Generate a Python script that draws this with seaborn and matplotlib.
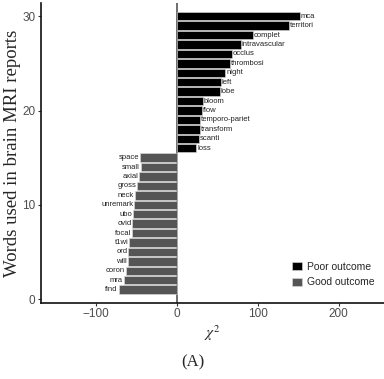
import matplotlib
matplotlib.use('Agg')
import matplotlib.pyplot as plt
import seaborn as sns
import pandas as pd

# words, top to bottom
poor_words = ['mca', 'territori', 'complet', 'intravascular', 'occlus', 'thrombosi',
              'night', 'left', 'lobe', 'bloom', 'flow', 'temporo-pariet',
              'transform', 'scanti', 'loss']
poor_chi2 = [152, 138, 94, 79, 68, 66, 60, 54, 53, 32, 31, 28, 28, 27, 24]

good_words = ['space', 'small', 'axial', 'gross', 'neck', 'unremark', 'ubo',
              'ovid', 'focal', 't1wi', 'ord', 'will', 'coron', 'mra', 'find']
good_chi2 = [-46, -45, -47, -49, -52, -53, -54, -55, -56, -59, -60, -61, -63, -66, -72]

words = poor_words + good_words
chi2 = poor_chi2 + good_chi2
outcome = ['Poor outcome'] * len(poor_words) + ['Good outcome'] * len(good_words)
n = len(words)
df = pd.DataFrame(dict(word=words, chi2=chi2, outcome=outcome,
                       pos=list(range(n, 0, -1))))

sns.set_style('white')
plt.rcParams['font.family'] = ['Liberation Sans', 'DejaVu Sans']
plt.rcParams['mathtext.fontset'] = 'stix'

fig = plt.figure(figsize=(3.84, 3.79), dpi=100)
ax = fig.add_axes([0.107, 0.201, 0.893, 0.791])

sns.barplot(data=df, x='chi2', y='pos', hue='outcome', orient='h',
            native_scale=True, dodge=False, width=0.9,
            hue_order=['Poor outcome', 'Good outcome'],
            palette={'Poor outcome': '#000000', 'Good outcome': '#555555'},
            edgecolor='#dddddd', linewidth=0.4, ax=ax)

for _, r in df.iterrows():
    if r.chi2 >= 0:
        ax.text(r.chi2 + 1, r.pos, r.word, ha='left', va='center', fontsize=5.5,
                color='#222222')
    else:
        ax.text(r.chi2 - 1, r.pos, r.word, ha='right', va='center', fontsize=5.5,
                color='#222222')

ax.axvline(0, color='#555555', linewidth=1.2, zorder=0)
ax.set_xlim(-168, 256)
ax.set_ylim(-0.4, 31.4)
ax.set_xticks([-100, 0, 100, 200])
ax.set_yticks([0, 10, 20, 30])
ax.tick_params(axis='both', labelsize=8.5, labelcolor='#4d4d4d', length=2.5,
               width=0.8, color='#333333', pad=1.5, direction='out')
ax.tick_params(axis='both', which='both', bottom=True, left=True)

for s in ['top', 'right']:
    ax.spines[s].set_visible(False)
for s in ['left', 'bottom']:
    ax.spines[s].set_color('#111111')
    ax.spines[s].set_linewidth(1.2)

ax.set_xlabel('$\\chi^2$', fontsize=11, labelpad=2)
ax.set_ylabel('Words used in brain MRI reports', fontsize=13.5,
              family='Liberation Serif', labelpad=1)

ax.legend(loc='lower right', bbox_to_anchor=(1.0, 0.02), frameon=False,
          fontsize=7.5, handlelength=0.9, handleheight=0.9, handletextpad=0.5,
          labelspacing=0.55)

fig.text(0.503, 0.045, '(A)', ha='center', va='center', fontsize=12,
         family='Liberation Serif')

fig.savefig('out.png', dpi=100)
